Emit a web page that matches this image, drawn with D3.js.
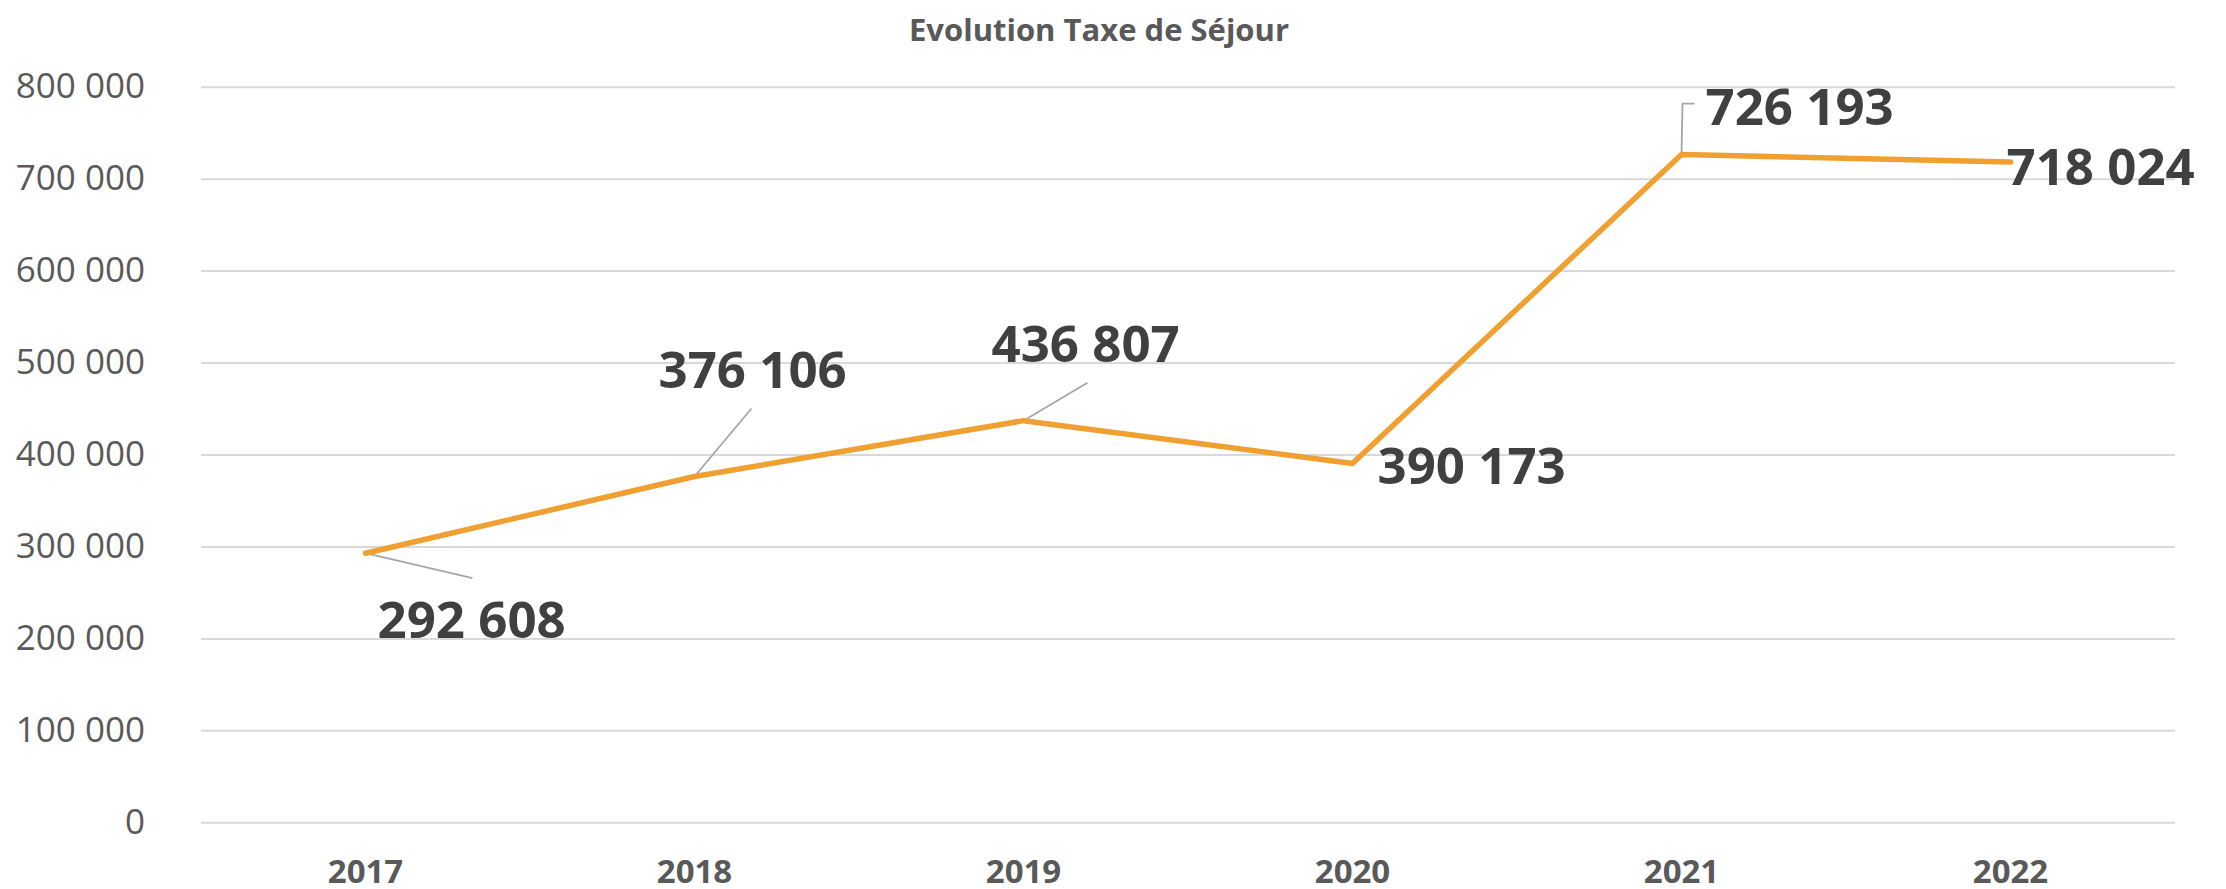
<!DOCTYPE html>
<html>
<head>
<meta charset="utf-8">
<script src="https://cdn.jsdelivr.net/npm/d3@7"></script>
<style>
  body { margin: 0; background: #fff; }
  svg { display: block; font-family: "Open Sans", "Noto Sans", sans-serif; }
</style>
</head>
<body>
<svg id="chart" width="2226" height="889"></svg>
<script>
const years = ["2017", "2018", "2019", "2020", "2021", "2022"];
const taxe = [292608, 376106, 436807, 390173, 726193, 718024];
const yTicks = [0, 100000, 200000, 300000, 400000, 500000, 600000, 700000, 800000];
const chartTitle = "Evolution Taxe de Séjour";

// label placement relative to each point (start anchor, baseline)
const labelOffsets = [[12, 85], [-36, -88], [-32, -59], [25, 20], [24, -30], [-4, 23]];
// leader lines (relative to point), null = none
const leaders = [
    [[0, 0], [107, 25]],
    [[0, 0], [57, -68]],
    [[0, 0], [64, -38]],
    null,
    [[0, 0], [1, -51], [13, -51]],
    null
];

const fr = d3.formatLocale({decimal: ",", thousands: " ", grouping: [3], currency: ["", " €"]});
const fmt = fr.format(",d");

const svg = d3.select("#chart");
const margin = {left: 201, right: 2175, top: 86.7, bottom: 822.3};

const x = d3.scaleBand().domain(years).range([margin.left, margin.right]).padding(0);
const y = d3.scaleLinear().domain([0, 800000]).range([margin.bottom, margin.top]);

// gridlines
svg.append("g")
    .attr("transform", "translate(" + margin.left + ",0)")
    .call(d3.axisLeft(y).tickValues(yTicks).tickSize(-(margin.right - margin.left)).tickFormat(""))
    .call(g => g.select(".domain").remove())
    .call(g => g.selectAll(".tick line").attr("stroke", "#d9d9d9").attr("stroke-width", 2));

// y labels
svg.append("g")
    .attr("transform", "translate(" + 145 + ",0)")
    .call(d3.axisLeft(y).tickValues(yTicks).tickSize(0).tickPadding(0).tickFormat(fmt))
    .call(g => g.select(".domain").remove())
    .call(g => g.selectAll(".tick text")
        .attr("fill", "#595959")
        .attr("font-size", 35)
        .attr("font-family", "Open Sans"));

// x labels
svg.append("g")
    .attr("transform", "translate(0," + margin.bottom + ")")
    .call(d3.axisBottom(x).tickSize(0).tickPadding(0))
    .call(g => g.select(".domain").remove())
    .call(g => g.selectAll(".tick text")
        .attr("fill", "#595959")
        .attr("font-size", 33)
        .attr("font-weight", "bold")
        .attr("font-family", "Open Sans")
        .attr("dy", null)
        .attr("y", 61));

// title
svg.append("text")
    .attr("x", 1099)
    .attr("y", 41)
    .attr("text-anchor", "middle")
    .attr("fill", "#595959")
    .attr("font-size", 31)
    .attr("font-weight", "bold")
    .text(chartTitle);

const cx = (d, i) => x(years[i]) + x.bandwidth() / 2;
const cy = d => y(d);

// leader lines
svg.append("g").selectAll("path")
    .data(taxe.map((d, i) => ({d, i})).filter(o => leaders[o.i]))
    .join("path")
    .attr("fill", "none")
    .attr("stroke", "#a6a6a6")
    .attr("stroke-width", 1.8)
    .attr("d", o => d3.line()(leaders[o.i].map(p => [cx(o.d, o.i) + p[0], cy(o.d) + p[1]])));

// line
const line = d3.line()
    .x((d, i) => cx(d, i))
    .y(d => cy(d));

svg.append("path")
    .datum(taxe)
    .attr("fill", "none")
    .attr("stroke", "#f0a030")
    .attr("stroke-width", 5.5)
    .attr("stroke-linejoin", "round")
    .attr("stroke-linecap", "round")
    .attr("d", line);

// data labels
svg.append("g").selectAll("text")
    .data(taxe)
    .join("text")
    .attr("x", (d, i) => cx(d, i) + labelOffsets[i][0])
    .attr("y", (d, i) => cy(d) + labelOffsets[i][1])
    .attr("fill", "#404040")
    .attr("font-size", 51)
    .attr("font-weight", "bold")
    .text(d => fmt(d));
</script>
</body>
</html>
